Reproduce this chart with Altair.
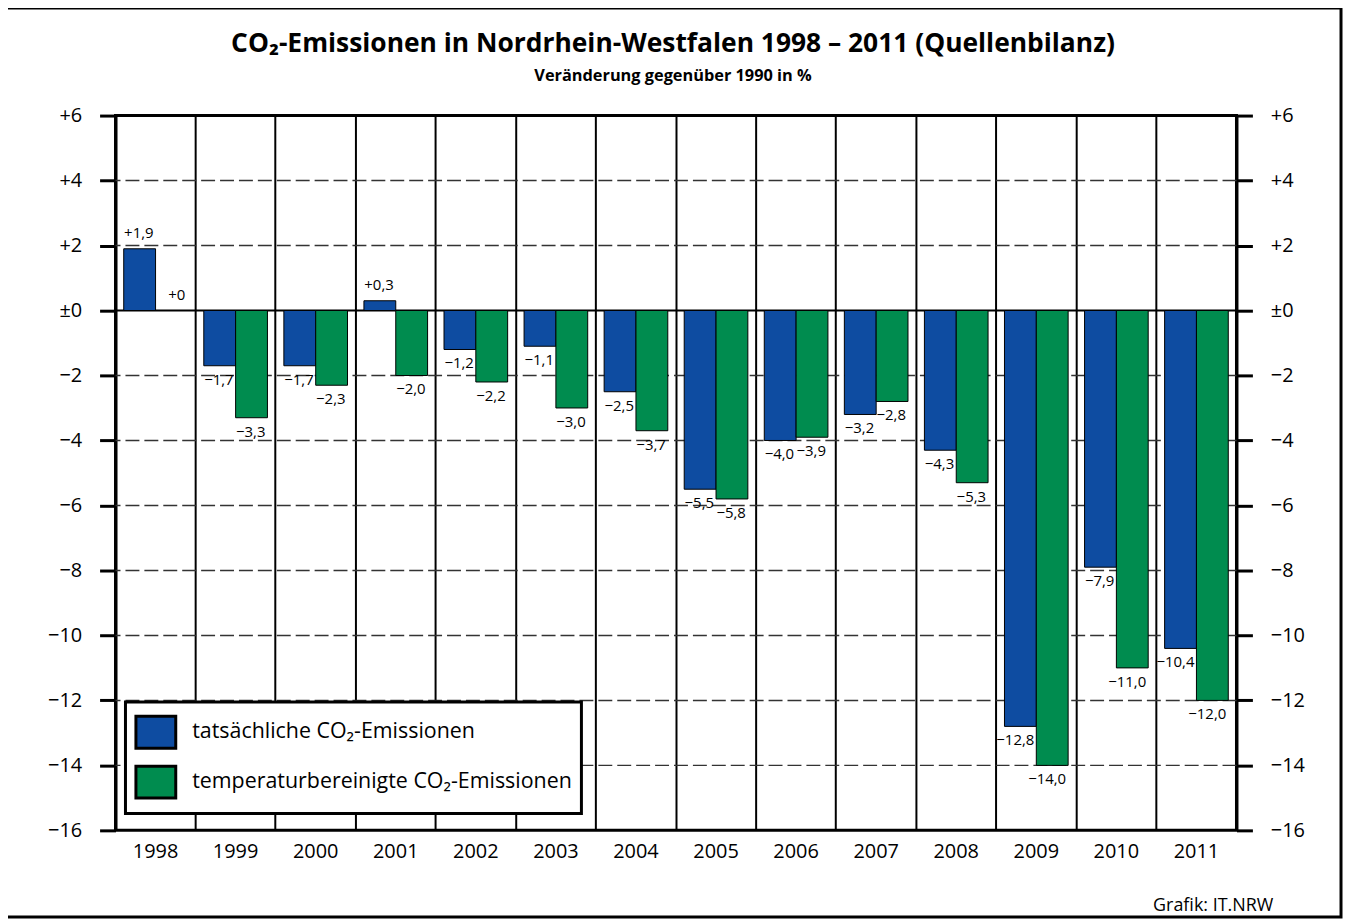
import altair as alt
import pandas as pd

years = ["1998", "1999", "2000", "2001", "2002", "2003", "2004",
         "2005", "2006", "2007", "2008", "2009", "2010", "2011"]
actual = [1.9, -1.7, -1.7, 0.3, -1.2, -1.1, -2.5, -5.5, -4.0, -3.2, -4.3, -12.8, -7.9, -10.4]
adjusted = [0.0, -3.3, -2.3, -2.0, -2.2, -3.0, -3.7, -5.8, -3.9, -2.8, -5.3, -14.0, -11.0, -12.0]
series_names = ["tatsächliche CO₂-Emissionen", "temperaturbereinigte CO₂-Emissionen"]
series_colors = ["#0e4ca1", "#008c4f"]
y_ticks = list(range(-16, 7, 2))
grid_levels = [-14, -12, -10, -8, -6, -4, -2, 2, 4]
title_text = "CO₂-Emissionen in Nordrhein-Westfalen 1998 – 2011 (Quellenbilanz)"
subtitle_text = "Veränderung gegenüber 1990 in %"
footer_text = "Grafik: IT.NRW"

FONT = "Open Sans"


def fmt(v):
    if v == 0:
        return "+0"
    sign = "+" if v > 0 else "\u2212"
    return sign + f"{abs(v):.1f}".replace(".", ",")


rows = []
for i, y in enumerate(years):
    for name, vals in zip(series_names, [actual, adjusted]):
        rows.append({"year": y, "series": name, "value": vals[i], "label": fmt(vals[i])})
df = pd.DataFrame(rows)

x_enc = alt.X("year:N", sort=years, scale=alt.Scale(paddingInner=0, paddingOuter=0),
              axis=alt.Axis(title=None, grid=True, gridColor="black", gridWidth=2,
                            bandPosition=0, ticks=False, domain=False, labelAngle=0,
                            labelFontSize=20, labelPadding=11, labelColor="black",
                            labelFont=FONT))
xoff_enc = alt.XOffset("series:N", sort=series_names,
                       scale=alt.Scale(paddingInner=0, paddingOuter=0.258))
y_scale = alt.Scale(domain=[-16, 6], nice=False, zero=False)

label_expr = "datum.value > 0 ? '+' + datum.value : (datum.value == 0 ? '±0' : '\u2212' + abs(datum.value))"


def y_axis(orient):
    return alt.Axis(orient=orient, values=y_ticks, title=None, grid=False,
                    tickSize=16, tickWidth=3, tickColor="black",
                    domainWidth=3, domainColor="black",
                    labelFontSize=20, labelPadding=18, labelColor="black",
                    labelFont=FONT, labelExpr=label_expr)


base = alt.Chart(df)

grid = alt.Chart(pd.DataFrame({"lvl": grid_levels})).mark_rule(
    color="#333333", strokeWidth=1.5, strokeDash=[14, 5]
).encode(y=alt.Y("lvl:Q", scale=y_scale, axis=None))

zero = alt.Chart(pd.DataFrame({"lvl": [0]})).mark_rule(
    color="black", strokeWidth=2
).encode(y=alt.Y("lvl:Q", scale=y_scale, axis=None))

bars = base.mark_bar(stroke="black", strokeWidth=1, opacity=1).encode(
    x=x_enc,
    xOffset=xoff_enc,
    y=alt.Y("value:Q", scale=y_scale, axis=y_axis("left")),
    y2=alt.datum(0),
    color=alt.Color("series:N", sort=series_names,
                    scale=alt.Scale(domain=series_names, range=series_colors),
                    legend=alt.Legend(title=None, orient="none", legendX=10, legendY=589,
                                      direction="vertical",
                                      symbolType="M-1,-0.8H1V0.8H-1Z",
                                      symbolSize=1600, symbolStrokeColor="black",
                                      symbolStrokeWidth=3, symbolOpacity=1,
                                      labelFontSize=21.5, labelFont=FONT,
                                      labelColor="black", labelOffset=15,
                                      rowPadding=5, padding=9,
                                      fillColor="white", strokeColor="black",
                                      labelLimit=700)),
)

pos_labels = base.transform_filter("datum.value >= 0").mark_text(
    align="right", baseline="bottom", dx=14, dy=-8, fontSize=15, font=FONT, color="black"
).encode(x=alt.X("year:N", sort=years), xOffset=alt.XOffset("series:N", sort=series_names),
         y=alt.Y("value:Q", scale=y_scale, axis=y_axis("right")), text="label:N")

neg_labels = base.transform_filter("datum.value < 0").mark_text(
    align="right", baseline="top", dx=14, dy=7, fontSize=15, font=FONT, color="black"
).encode(x=alt.X("year:N", sort=years), xOffset=alt.XOffset("series:N", sort=series_names),
         y=alt.Y("value:Q", scale=y_scale, axis=None), text="label:N")

one = pd.DataFrame({"t": [footer_text], "title": [title_text], "sub": [subtitle_text]})
frame = alt.Chart(one).mark_rect(fill=None, stroke="black", strokeWidth=3).encode(
    x=alt.value(-112), x2=alt.value(1231), y=alt.value(-108), y2=alt.value(805))
footer = alt.Chart(one).mark_text(align="right", baseline="middle", fontSize=18,
                                  font=FONT, color="black").encode(
    x=alt.value(1163), y=alt.value(794), text="t:N")
title = alt.Chart(one).mark_text(align="center", baseline="alphabetic", fontSize=26.5,
                                 fontWeight="bold", font=FONT, color="black").encode(
    x=alt.value(560), y=alt.value(-64), text="title:N")
subtitle = alt.Chart(one).mark_text(align="center", baseline="alphabetic", fontSize=16.4,
                                    fontWeight="bold", font=FONT, color="black").encode(
    x=alt.value(560), y=alt.value(-35), text="sub:N")

chart = alt.layer(grid, zero, bars, pos_labels, neg_labels, frame, footer, title, subtitle
                  ).resolve_axis(y="independent").properties(
    width=1126, height=718,
    autosize=alt.AutoSizeParams(type="none"),
    padding={"left": 108, "top": 106, "right": 107, "bottom": 89},
).configure_view(stroke="black", strokeWidth=3).configure_legend(strokeWidth=3)

chart.save("out.html", embed_options={"renderer": "svg", "actions": False})
